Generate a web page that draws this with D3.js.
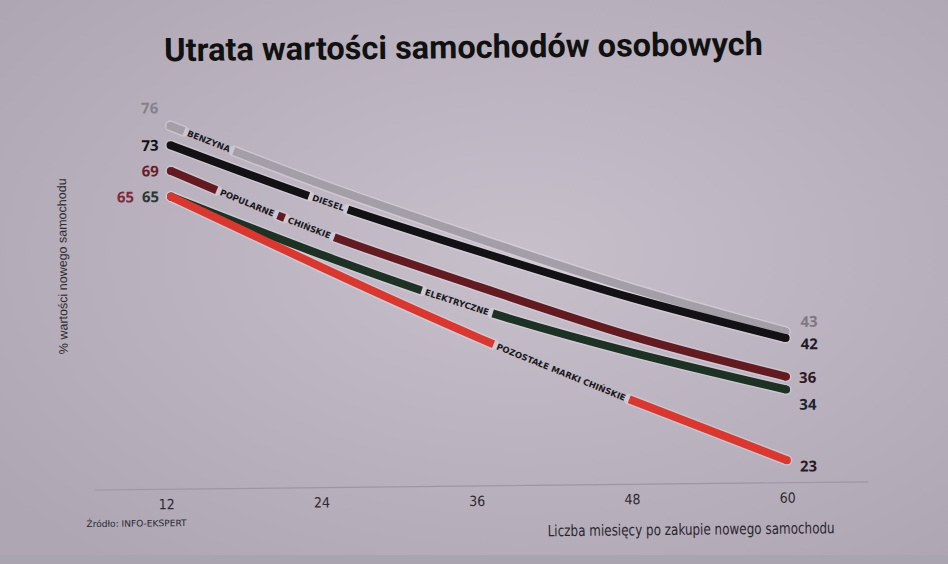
<!DOCTYPE html>
<html>
<head>
<meta charset="utf-8">
<script src="https://d3js.org/d3.v7.min.js"></script>
<style>
  html, body { margin: 0; padding: 0; background: #bdb5c1; }
  svg { display: block; }
</style>
</head>
<body>
<div id="chart"></div>
<script>

// data
const months = [12, 24, 36, 48, 60];
const tickLabels = ['12', '24', '36', '48', '60'];
const seriesNames = ['BENZYNA', 'DIESEL', 'POPULARNE CHIŃSKIE', 'ELEKTRYCZNE', 'POZOSTAŁE MARKI CHIŃSKIE'];
const benzyna = [76, 66.5, 58, 50, 43];
const diesel = [73, 64, 56, 48.5, 42];
const popularneChinskie = [69, 59, 50.5, 42.5, 36];
const elektryczne = [65, 55.5, 47, 40, 34];
const pozostaleChinskie = [65, 53.5, 42.5, 32.5, 23];

const title = 'Utrata wartości samochodów osobowych';
const yTitle = '% wartości nowego samochodu';
const xTitle = 'Liczba miesięcy po zakupie nowego samochodu';
const source = 'Źródło: INFO-EKSPERT';

// styles
const canvas = [948, 564];
const colors = ['#a39ea7', '#141116', '#631b22', '#1e3125', '#d8382f'];
const startLabelColors = ['#86818b', '#121016', '#6a1c28', '#2c3635', '#7e2a3a'];
const endLabelColors = ['#7d7883', '#1c1a26', '#301820', '#1e2234', '#2a1a26'];
const startNudge = [[0, -18], [0, 0], [0, 0], [0, 0], [-25, 0]];
const endNudge = [[2, -10], [2, 6], [0, 1], [0, 15], [0, 6]];
// inline label pieces: series index, text, centre (in months)
const inlineLabels = [
  [0, 'BENZYNA', 15.0],
  [1, 'DIESEL', 24.3],
  [2, 'POPULARNE', 17.95],
  [2, 'CHIŃSKIE', 22.8],
  [3, 'ELEKTRYCZNE', 34.3],
  [4, 'POZOSTAŁE MARKI CHIŃSKIE', 42.4],
];
const narrow = '"Liberation Sans Narrow", "DejaVu Sans Condensed", "Roboto Condensed", sans-serif';

const series = [benzyna, diesel, popularneChinskie, elektryczne, pozostaleChinskie];

const svg = d3.select('#chart').append('svg')
  .attr('width', canvas[0])
  .attr('height', canvas[1]);

// background like a photographed screen
const defs = svg.append('defs');
const grad = defs.append('radialGradient').attr('id', 'bg')
  .attr('cx', '55%').attr('cy', '45%').attr('r', '70%');
grad.append('stop').attr('offset', '0%').attr('stop-color', '#c7c0cb');
grad.append('stop').attr('offset', '100%').attr('stop-color', '#aea6b3');
svg.append('rect').attr('width', canvas[0]).attr('height', canvas[1]).attr('fill', 'url(#bg)');
svg.append('rect').attr('y', 555).attr('width', canvas[0]).attr('height', 9).attr('fill', '#aaa4b0');

// the photo is tilted a little
const root = svg.append('g').attr('transform', 'rotate(-0.6, 474, 282)');

const x = d3.scaleLinear().domain([12, 60]).range([172, 785]);
const xTick = d3.scaleLinear().domain([12, 60]).range([164, 785]);
const y = d3.scaleLinear().domain([19.5, 80]).range([486, 97]);

// title
root.append('text')
  .attr('x', 466).attr('y', 58)
  .attr('text-anchor', 'middle')
  .style('font-family', 'Roboto, "Liberation Sans", sans-serif')
  .style('font-weight', 700)
  .style('font-size', '32.5px')
  .style('fill', '#111')
  .text(title);

// baseline
root.append('line')
  .attr('x1', 93).attr('x2', 866)
  .attr('y1', y(19.5)).attr('y2', y(19.5))
  .style('stroke', '#9d96a3').style('stroke-width', 1.2);

// x axis labels
const xAxis = root.append('g')
  .attr('transform', `translate(0, ${y(19.5) + 4})`)
  .call(d3.axisBottom(xTick).tickValues(months).tickSize(0).tickPadding(6)
    .tickFormat((d, i) => tickLabels[i]));
xAxis.select('.domain').remove();
xAxis.selectAll('text')
  .style('font-family', narrow)
  .style('font-size', '14px')
  .style('fill', '#2e2a32');

root.append('text')
  .attr('x', 545).attr('y', 537)
  .attr('textLength', 287)
  .attr('lengthAdjust', 'spacingAndGlyphs')
  .style('font-family', narrow)
  .style('font-size', '15.5px')
  .style('fill', '#2a2630')
  .text(xTitle);

root.append('text')
  .attr('x', 84).attr('y', 523)
  .attr('textLength', 100)
  .attr('lengthAdjust', 'spacingAndGlyphs')
  .style('font-family', narrow)
  .style('font-size', '9px')
  .style('fill', '#2a2630')
  .text(source);

root.append('text')
  .attr('transform', 'translate(67, 262) rotate(-90)')
  .attr('text-anchor', 'middle')
  .style('font-family', '"Liberation Sans", Arial, sans-serif')
  .style('font-size', '12.5px')
  .style('fill', '#2e2a32')
  .text(yTitle);

// lines
const line = d3.line()
  .x((d, i) => x(months[i]))
  .y(d => y(d))
  .curve(d3.curveNatural);

const haloG = root.append('g');
const lineG = root.append('g');
const textG = root.append('g');

series.forEach((vals, si) => {
  const d = line(vals);
  const path = lineG.append('path')
    .attr('d', d)
    .style('fill', 'none')
    .style('stroke', colors[si])
    .style('stroke-width', 8)
    .style('stroke-linecap', 'butt');
  const node = path.node();
  const total = node.getTotalLength();

  // find length at a given month
  const lengthAt = m => {
    const tx = x(m);
    let lo = 0, hi = total;
    for (let k = 0; k < 40; k++) {
      const mid = (lo + hi) / 2;
      if (node.getPointAtLength(mid).x < tx) lo = mid; else hi = mid;
    }
    return (lo + hi) / 2;
  };

  const gaps = [];
  inlineLabels.filter(l => l[0] === si).forEach(([, txt, at]) => {
    const s = lengthAt(at);
    const p = node.getPointAtLength(s);
    const p0 = node.getPointAtLength(Math.max(0, s - 4));
    const p1 = node.getPointAtLength(Math.min(total, s + 4));
    const ang = Math.atan2(p1.y - p0.y, p1.x - p0.x) * 180 / Math.PI;
    const t = textG.append('text')
      .attr('transform', `translate(${p.x}, ${p.y}) rotate(${ang})`)
      .attr('text-anchor', 'middle')
      .attr('dy', '0.36em')
      .style('font-family', '"DejaVu Sans", sans-serif')
      .style('font-weight', 700)
      .style('font-size', '8.5px')
      .style('fill', '#1b1820')
      .text(txt);
    const half = t.node().getComputedTextLength() / 2 + 4;
    gaps.push([s - half, s + half]);
  });
  gaps.sort((a, b) => a[0] - b[0]);
  const dash = [];
  let pos = 0;
  gaps.forEach(([a, b]) => { dash.push(a - pos, b - a); pos = b; });
  dash.push(total - pos, total);
  path.style('stroke-dasharray', dash.join(' '));

  haloG.append('path')
    .attr('d', d)
    .style('fill', 'none')
    .style('stroke', '#e2dbe4')
    .style('stroke-opacity', 0.45)
    .style('stroke-width', 11)
    .style('stroke-linecap', 'round')
    .style('stroke-dasharray', dash.join(' '));

  // round ends
  [0, months.length - 1].forEach(i => {
    lineG.append('circle')
      .attr('cx', x(months[i])).attr('cy', y(vals[i])).attr('r', 4)
      .style('fill', colors[si]);
  });

  // value labels
  textG.append('text')
    .attr('x', x(months[0]) - 12 + startNudge[si][0])
    .attr('y', y(vals[0]) + startNudge[si][1])
    .attr('dy', '0.36em')
    .attr('text-anchor', 'end')
    .style('font-family', '"Open Sans", "Noto Sans", sans-serif')
    .style('font-weight', 700)
    .style('font-size', '15px')
    .style('fill', startLabelColors[si])
    .text(vals[0]);
  const last = vals.length - 1;
  textG.append('text')
    .attr('x', x(months[last]) + 13 + endNudge[si][0])
    .attr('y', y(vals[last]) + endNudge[si][1])
    .attr('dy', '0.36em')
    .style('font-family', '"Open Sans", "Noto Sans", sans-serif')
    .style('font-weight', 700)
    .style('font-size', '15px')
    .style('fill', endLabelColors[si])
    .text(vals[last]);
});

</script>
</body>
</html>
